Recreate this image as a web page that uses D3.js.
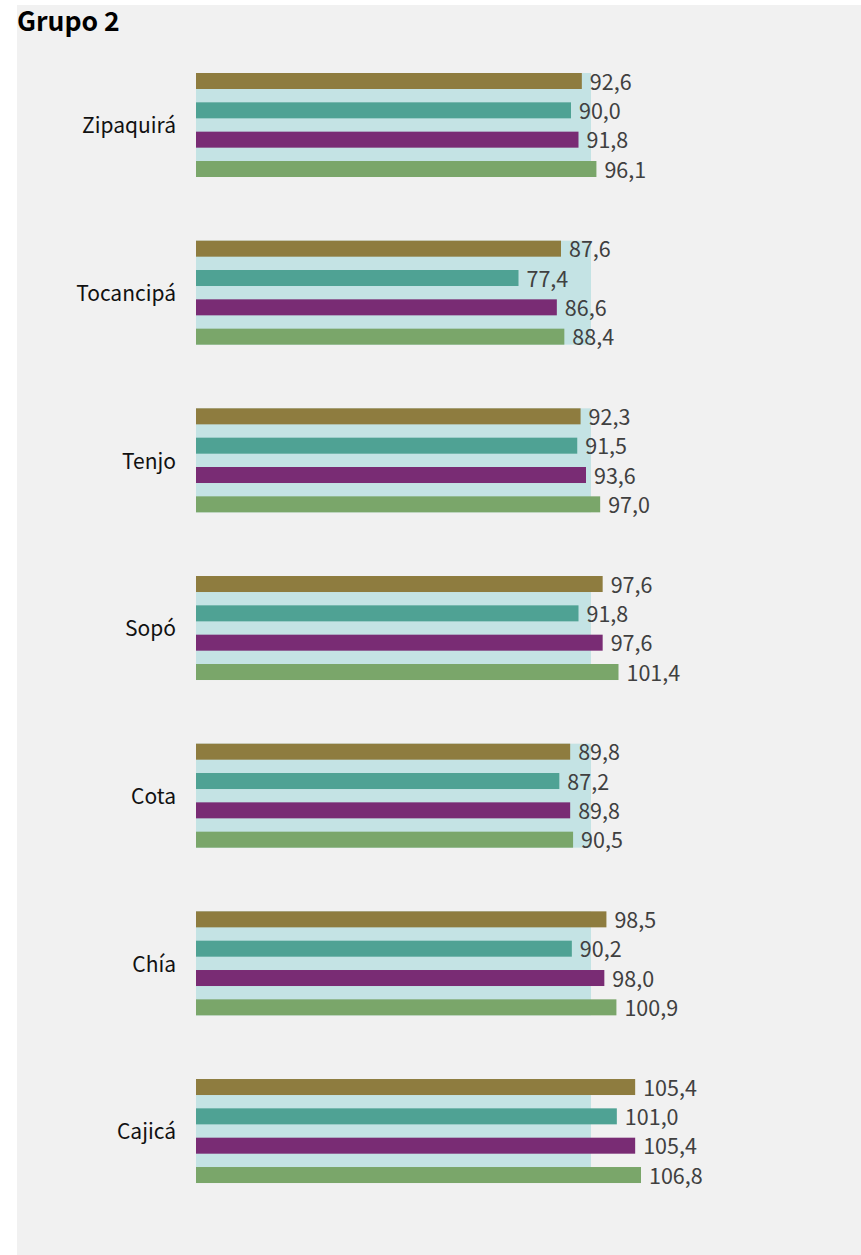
<!DOCTYPE html>
<html>
<head>
<meta charset="utf-8">
<script src="https://cdn.jsdelivr.net/npm/d3@7"></script>
<style>
  html, body { margin: 0; padding: 0; background: #ffffff; }
  svg { display: block; }
</style>
</head>
<body>
<div id="chart"></div>
<script>
const title = "Grupo 2";
const categories = ["Zipaquirá", "Tocancipá", "Tenjo", "Sopó", "Cota", "Chía", "Cajicá"];
const seriesNames = ["Serie 1", "Serie 2", "Serie 3", "Serie 4"];
const serie1 = [92.6, 87.6, 92.3, 97.6, 89.8, 98.5, 105.4];
const serie2 = [90.0, 77.4, 91.5, 91.8, 87.2, 90.2, 101.0];
const serie3 = [91.8, 86.6, 93.6, 97.6, 89.8, 98.0, 105.4];
const serie4 = [96.1, 88.4, 97.0, 101.4, 90.5, 100.9, 106.8];
const referencia = [94.8, 94.8, 94.8, 94.8, 94.8, 94.8, 94.8];
const colors = ["#8e7c3f", "#4fa294", "#792c74", "#7aa66a"];

const W = 861, H = 1255;
const FONT = "'Noto Sans CJK SC', 'Noto Sans', sans-serif";
const svg = d3.select("#chart").append("svg").attr("width", W).attr("height", H);

svg.append("rect").attr("x", 17).attr("y", 5).attr("width", W - 17).attr("height", H - 5).attr("fill", "#f1f1f1");

svg.append("text").attr("x", 17).attr("y", 31)
  .attr("font-family", FONT).attr("font-weight", 700).attr("font-size", 26.5)
  .attr("fill", "#000").text(title);

const allSeries = [serie1, serie2, serie3, serie4];
const data = categories.map((c, i) => ({
  cat: c, ref: referencia[i],
  vals: allSeries.map((s, j) => ({ name: seriesNames[j], v: s[i], j }))
}));

const x = d3.scaleLinear().domain([0, 120]).range([196, 696]);
const y = d3.scaleBand().domain(categories).range([73, 73 + 7 * 167.67]).paddingInner(0).paddingOuter(0);
const yi = d3.scaleBand().domain(seriesNames).range([0, 104]).paddingInner(0.4545).paddingOuter(0);

const g = svg.selectAll("g.grp").data(data).join("g")
  .attr("class", "grp").attr("transform", d => `translate(0,${y(d.cat)})`);

g.append("rect").attr("x", x(0)).attr("y", 0)
  .attr("width", d => x(d.ref) - x(0)).attr("height", 104).attr("fill", "#c4e3e4");

g.selectAll("rect.bar").data(d => d.vals).join("rect").attr("class", "bar")
  .attr("x", x(0)).attr("y", d => yi(d.name))
  .attr("width", d => x(d.v) - x(0)).attr("height", yi.bandwidth())
  .attr("fill", d => colors[d.j]);

g.selectAll("text.val").data(d => d.vals).join("text").attr("class", "val")
  .attr("x", d => x(d.v) + 8).attr("y", d => yi(d.name) + yi.bandwidth() / 2)
  .attr("dy", "0.4em")
  .attr("font-family", FONT).attr("font-size", 21.5).attr("fill", "#404040")
  .text(d => d3.format(".1f")(d.v).replace(".", ","));

g.append("text").attr("x", 176).attr("y", 52).attr("dy", "0.4em")
  .attr("text-anchor", "end")
  .attr("font-family", FONT).attr("font-size", 21).attr("fill", "#111")
  .text(d => d.cat);
</script>
</body>
</html>
